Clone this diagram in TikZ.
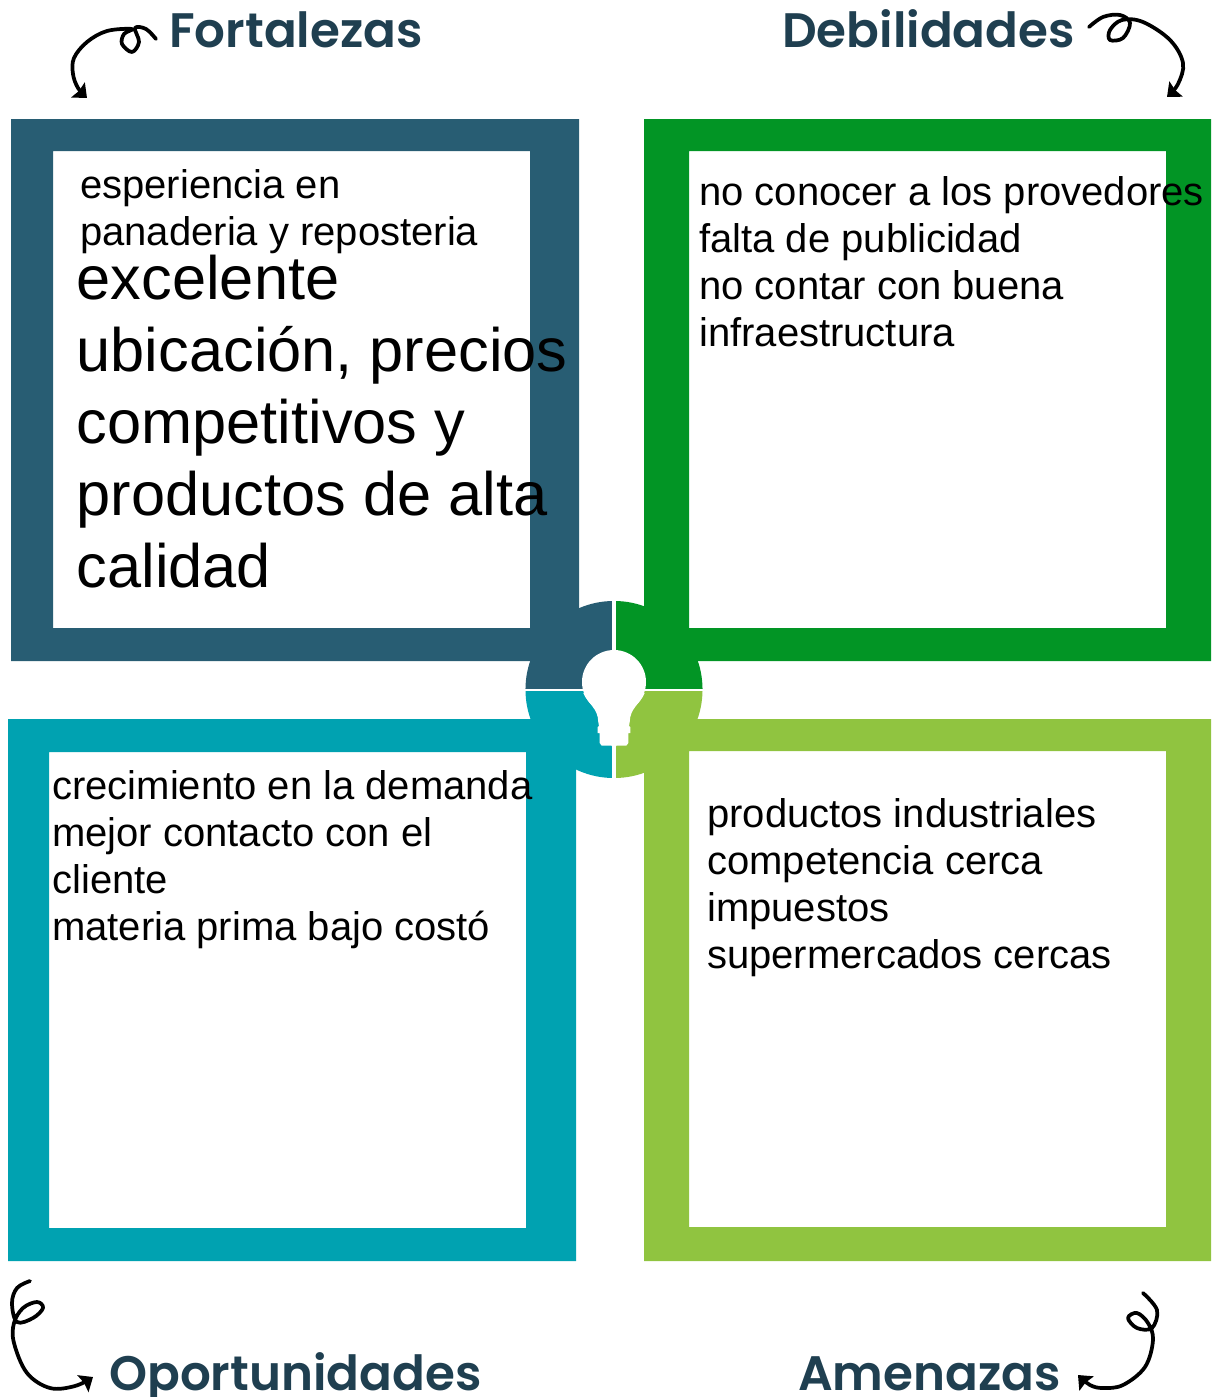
\documentclass[tikz,border=0pt]{standalone}
\usepackage{fontspec}
\usetikzlibrary{arrows.meta}
\setmainfont{Liberation Sans}
\newfontfamily\headfont{Poppins SemiBold}
\definecolor{cblue}{HTML}{285D73}
\definecolor{cgreen}{HTML}{029525}
\definecolor{cteal}{HTML}{00A2B1}
\definecolor{clime}{HTML}{90C440}
\definecolor{chead}{HTML}{1F3F50}
\tikzset{
  framefill/.style={fill=#1,even odd rule},
  heading/.style={font=\headfont\fontsize{36.3}{42}\selectfont,text=chead,anchor=base west,inner sep=0pt},
  bodytext/.style={font=\fontsize{30}{35.2}\selectfont,text=black,anchor=north west,inner sep=0pt,align=left},
  bigtext/.style={font=\fontsize{46}{53.9}\selectfont,text=black,anchor=north west,inner sep=0pt,align=left},
  curl/.style={draw=black,line width=2.8pt,line cap=round,line join=round,-{Stealth[length=9pt,width=15pt,inset=1pt]}},
}
\begin{document}
\begin{tikzpicture}[x=0.75pt,y=-0.75pt]
\useasboundingbox (0,0) rectangle (1213,1397);
% hub quadrants
\begin{scope}\clip (500,580) rectangle (614,689.5);\fill[cblue] (614,689.5) circle[radius=66.4pt];\end{scope}
\begin{scope}\clip (614,580) rectangle (730,689.5);\fill[cgreen] (614,689.5) circle[radius=66.4pt];\end{scope}
\begin{scope}\clip (500,689.5) rectangle (614,800);\fill[cteal] (614,689.5) circle[radius=66.4pt];\end{scope}
\begin{scope}\clip (614,689.5) rectangle (730,800);\fill[clime] (614,689.5) circle[radius=66.4pt];\end{scope}
% frames
\path[framefill=cblue] (11,119) rectangle (579,661) (53,151) rectangle (530,628);
\path[framefill=cgreen] (644,119) rectangle (1211,661) (689,151) rectangle (1166,628);
\path[framefill=cteal] (8,719) rectangle (576,1261) (49,752) rectangle (526,1228);
\path[framefill=clime] (644,719) rectangle (1211,1261) (689,751) rectangle (1166,1227);
% gaps
\fill[white] (612,595) rectangle (616,782);
\fill[white] (520,688.5) rectangle (708,691);
% bulb
\fill[white] (614,682) circle[radius=24pt];
\fill[white] (583.3,693) .. controls (588,704) and (598,708) .. (598.3,722) -- (599,726) -- (597.7,727) -- (597.7,733) -- (599.7,733) -- (599.7,743) -- (601.7,745.7) -- (611.7,745.7) -- (614,750) -- (616.3,745.7) -- (626.3,745.7) -- (628.3,743) -- (628.3,733) -- (630.3,733) -- (630.3,727) -- (629,726) -- (629.7,722) .. controls (630,708) and (640,704) .. (644.7,693) -- cycle;
% headings
\node[heading] (fort) at (169,47) {Fortalezas};
\node[heading] (deb) at (782,47) {Debilidades};
\node[heading] (opor) at (109,1390) {Oportunidades};
\node[heading] (amen) at (798,1390) {Amenazas};
% body
\node[bodytext] (t1) at (80,169) {esperiencia en\\panaderia y reposteria};
\node[bigtext] (t2) at (76.5,255.2) {excelente\\ubicación, precios\\competitivos y\\productos de alta\\calidad};
\node[bodytext] (t3) at (699,176) {no conocer a los provedores\\falta de publicidad\\no contar con buena\\infraestructura};
\node[bodytext] (t4) at (52,770) {crecimiento en la demanda\\mejor contacto con el\\cliente\\materia prima bajo costó};
\node[bodytext] (t5) at (707,798) {productos industriales\\competencia cerca\\impuestos\\supermercados cercas};
% curls
\draw[curl] plot[smooth,tension=0.6] coordinates {(156,39) (146,29) (135,28) (139,42) (132,52) (122,44) (124,34) (132,29) (107,31) (87,42) (74,58) (73,74) (78,88) (87,98)};
\draw[curl] plot[smooth,tension=0.6] coordinates {(1089,27) (1103,17) (1120,15) (1130,23) (1123,38) (1110,40) (1110,30) (1122,20) (1143,22) (1170,40) (1183,63) (1178,84) (1167,97)};
\draw[curl] plot[smooth,tension=0.6] coordinates {(30,1281) (17,1288) (12,1303) (17,1322) (33,1318) (43,1308) (37,1302) (23,1308) (14,1323) (14,1343) (27,1373) (50,1388) (75,1386) (93,1377)};
\draw[curl] plot[smooth,tension=0.6] coordinates {(1143,1293) (1157,1310) (1152,1328) (1137,1328) (1128,1318) (1137,1313) (1148,1323) (1153,1340) (1145,1367) (1123,1385) (1103,1388) (1090,1385) (1078,1375)};
\end{tikzpicture}
\end{document}
